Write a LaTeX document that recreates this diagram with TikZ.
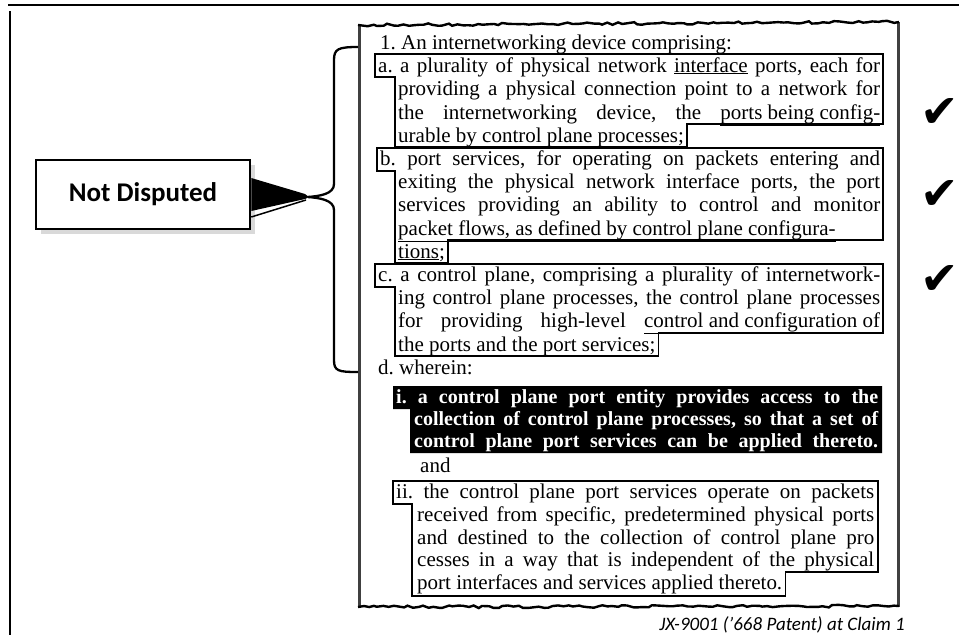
\documentclass[tikz,border=0pt]{standalone}
\usepackage{fontspec}
\setmainfont{Liberation Serif}
\newfontfamily\calfont{Carlito}
\newfontfamily\symfont{DejaVu Sans}
\usetikzlibrary{calc,decorations.pathmorphing}
\frenchspacing

% justified claim line of a given width
\newcommand{\jline}[2]{\makebox[#1pt][s]{#2}}

\begin{document}
\begin{tikzpicture}[x=1pt,y=-1pt,
  ln/.style={anchor=base west,inner sep=0pt,font=\fontsize{21}{23}\selectfont},
  wln/.style={ln,text=white,font=\fontsize{20}{23}\selectfont\bfseries},
  sel/.style={draw,line width=1.4pt,line join=miter},
  torn/.style={decorate,decoration={random steps,segment length=5pt,amplitude=1.3pt},line width=2.4pt},
  chk/.style={inner sep=0pt,font=\symfont\fontsize{46}{46}\selectfont}]
\pgfmathsetseed{17}
\useasboundingbox (0,0) rectangle (959,635);

% Page frame
\draw[line width=2pt] (8,5) -- (959,5);
\draw[line width=2pt] (10,11) -- (10,635);

% Claim excerpt (torn paper)
\draw[line width=3pt,black!75] (359,24) -- (359,607);
\draw[line width=3pt,black!75] (898,22) -- (898,607);
\draw[torn] (358,25) -- (899,22);
\draw[torn] (358,607) -- (899,606);

% Black highlight behind element i
\fill (393,386) -- (882,386) -- (882,453) -- (410,453) -- (410,409) -- (393,409) -- cycle;

% Claim text
\node[ln] (l0) at (380,49) {1. An internetworking device comprising:};
\node[ln] (a1) at (378,72) {\jline{502}{a. a plurality of physical network \underline{interface} ports, each for}};
\node[ln] (a2) at (398,95) {\jline{482}{providing a physical connection point to a network for}};
\node[ln] (a3) at (398,119) {\jline{482}{the internetworking device, the \underline{ports being config-}}};
\node[ln] (a4) at (398,142) {urable \underline{by control plane processes};};
\node[ln] (b1) at (380,165) {\jline{500}{b. port services, for operating on packets entering and}};
\node[ln] (b2) at (398,188) {\jline{482}{exiting the physical network interface ports, the port}};
\node[ln] (b3) at (398,211) {\jline{482}{services providing an ability to control and monitor}};
\node[ln] (b4) at (398,235) {\jline{482}{\underline{packet flows, as defined by control plane configura-}}};
\node[ln] (b5) at (398,258) {\underline{tions};};
\node[ln] (c1) at (378,281) {\jline{502}{c. a control plane, comprising a plurality of internetwork-}};
\node[ln] (c2) at (398,304) {\jline{482}{ing control plane processes, the control plane processes}};
\node[ln] (c3) at (398,327) {\jline{482}{for providing high-level \underline{control and configuration of}}};
\node[ln] (c4) at (398,351) {the ports and the port services;};
\node[ln] (d0) at (378,374) {d. wherein:};
\node[wln] (i1) at (396,403) {\jline{482}{i. a control plane port entity provides access to the}};
\node[wln] (i2) at (414,425) {\jline{464}{collection of control plane processes, so that a set of}};
\node[wln] (i3) at (414,447) {\jline{464}{control plane port services can be applied thereto.}};
\node[ln] (and) at (420,472) {and};
\node[ln] (ii1) at (396,498) {\jline{478}{ii. the control plane port services operate on packets}};
\node[ln] (ii2) at (417,521) {\jline{457}{received from specific, predetermined physical ports}};
\node[ln] (ii3) at (417,544) {\jline{457}{and destined to the collection of control plane pro}};
\node[ln] (ii4) at (417,566) {\jline{457}{cesses in a way that is independent of the \underline{physical}}};
\node[ln] (ii5) at (417,589) {\underline{port interfaces and services applied thereto}.};

% Element outlines
\coordinate (ae) at ($(a4.east)+(3,0)$);
\coordinate (be) at ($(b5.east)+(3,0)$);
\coordinate (ce) at ($(c4.east)+(3,0)$);
\coordinate (iie) at ($(ii5.east)+(3,0)$);
\draw[sel] (375,54) -- (883,54) -- (883,124) -- (ae |- 0,124) -- (ae |- 0,147) -- (395,147) -- (395,77) -- (375,77) -- cycle;
\draw[sel] (377,148) -- (883,148) -- (883,240) -- (be |- 0,240) -- (be |- 0,263) -- (395,263) -- (395,171) -- (377,171) -- cycle;
\draw[sel] (375,264) -- (883,264) -- (883,333) -- (ce |- 0,333) -- (ce |- 0,356) -- (395,356) -- (395,287) -- (375,287) -- cycle;
\draw[sel] (393,481) -- (878,481) -- (878,572) -- (iie |- 0,572) -- (iie |- 0,596) -- (412,596) -- (412,504) -- (393,504) -- cycle;

% Brace
\draw[line width=2.3pt] (358,47) .. controls (338,47) and (334,49) .. (334,60) -- (334,184)
  .. controls (334,194) and (320,196) .. (308,197);
\draw[line width=2.3pt] (308,197) .. controls (320,198) and (334,200) .. (334,210) -- (334,360)
  .. controls (334,371) and (338,372) .. (358,372);

% Callout
\fill[black!15] (41,165) rectangle (255,234);
\node[draw,fill=white,line width=2.5pt,minimum width=214pt,minimum height=69pt,
  font=\calfont\bfseries\fontsize{27}{27}\selectfont] (nd) at (143,194.5) {Not Disputed};
\fill (nd.east |- 0,178) -- (305,194) -- (309,197) -- (305,199) -- (nd.east |- 0,211) -- cycle;
\draw[line width=1.5pt] (nd.east |- 0,217) -- (306,200);

% Check marks
\node[chk] (chk1) at (940,113) {✔};
\node[chk] (chk2) at (940,195) {✔};
\node[chk] (chk3) at (940,280) {✔};

% Source
\node[anchor=base east,inner sep=0pt,font=\calfont\itshape\fontsize{19}{19}\selectfont] (src)
  at (905,630) {JX-9001 (’668 Patent) at Claim 1};

\end{tikzpicture}
\end{document}
